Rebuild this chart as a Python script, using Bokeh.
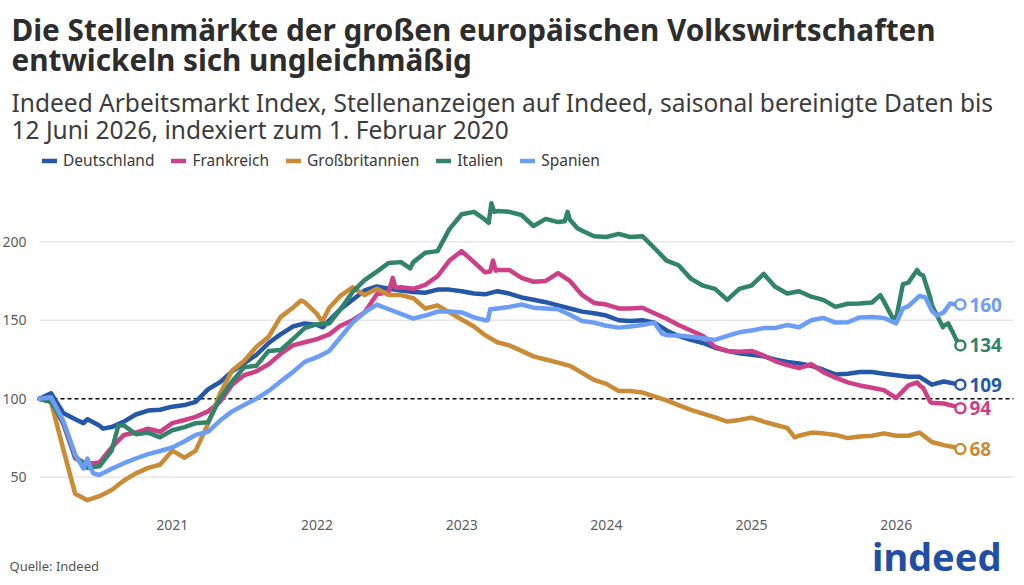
import pandas as pd
from bokeh.plotting import figure
from bokeh.models import (ColumnDataSource, Range1d, FixedTicker, DatetimeTickFormatter,
                          Label, Legend, LegendItem)
from bokeh.core.properties import value
from bokeh.embed import file_html
from bokeh.resources import INLINE

# ---------------- data ----------------
months = pd.date_range("2020-02-01", "2026-06-01", freq="MS").strftime("%Y-%m-%d").tolist() + ["2026-06-12"]

deutschland = [
    100, 103.5, 91, 87, 87, 83, 82, 85.5, 90, 92.5, 93,
    95, 96, 98, 106, 110.5, 117.5, 122.5, 128, 135.5, 141, 146, 148,
    147, 150, 157, 163, 169, 171.5, 170, 169, 168, 167.5, 169.5, 169.5,
    168.5, 167, 166.5, 168.5, 167, 164.5, 163, 161.5, 159.5, 157.5, 155.5, 154.5,
    153, 150, 149.5, 150, 148.5, 143.5, 140, 137.5, 135.5, 132.5, 130.5, 129,
    128, 127, 125, 123.5, 122.5, 121, 118.5, 115.5, 116, 117, 117, 116,
    115, 114, 114, 109, 111, 109.5, 109,
]
frankreich = [
    100, 98, 84, 62, 58.6, 59.4, 69, 77, 78.5, 81, 79,
    84.5, 86.5, 88.5, 92, 98, 109, 115, 117.5, 122, 128.5, 134, 136,
    138, 141, 146.5, 150, 155, 166.5, 168, 171, 170, 172.5, 178, 188,
    194, 187, 180.5, 182, 182, 177, 174.5, 175, 180, 175, 166, 161,
    160, 157.5, 157.5, 158, 154.5, 151, 147, 143.5, 140, 133, 130.5, 130,
    130.5, 127.5, 124, 121.5, 119.5, 122, 117, 113.5, 110.5, 108.5, 107, 105.5,
    100.5, 108.5, 108.5, 97.5, 97, 95, 94,
]
grossbritannien = [
    100, 98, 68, 39.5, 35.5, 38, 42, 48, 52.5, 56, 58,
    67, 62.5, 67, 84, 103, 118, 124, 133, 139.5, 152, 158, 161.5,
    154, 158, 165.5, 171, 166, 170, 166, 166, 164, 157.5, 159.5, 155,
    150.5, 146, 140.5, 136, 134, 130.5, 127, 125, 123, 121, 116.5, 112,
    109.5, 105, 105, 104, 101.5, 99, 96, 93, 90.5, 88.2, 85.5, 86.5,
    88, 85.5, 83.5, 81.5, 76.5, 78.5, 78, 77, 75, 76, 76.5, 78,
    76.5, 76.5, 78.5, 72.5, 70.5, 69, 68,
]
italien = [
    100, 98, 85, 63.5, 56, 57, 67, 83, 77.5, 78.5, 75.5,
    80, 82, 84.5, 85, 100, 111, 120, 121, 130.5, 131, 138, 145,
    147.5, 148, 157, 168, 175.5, 181, 186.5, 187, 187, 193, 194, 208,
    217.5, 219, 214, 219.5, 219, 217, 210, 214.5, 212.5, 214, 207, 203.5,
    203, 205, 203, 203.5, 196, 188, 185, 176.5, 172, 170, 163, 170,
    172, 179.5, 171.5, 167, 168.5, 165, 163, 158.5, 160.5, 160.7, 161.3, 162,
    151, 174, 179.5, 159.5, 146.5, 138, 134,
]
spanien = [
    100, 101, 86, 64.5, 62, 51.5, 55.5, 59, 62, 64.8, 66.8,
    69, 73, 77, 79, 86, 92, 96, 100, 105, 111, 117, 123.5,
    126.5, 130.5, 139, 148.5, 155, 160, 157, 154, 151, 153, 155.5, 155.5,
    155, 151.8, 150, 157.5, 158.5, 160, 158, 157.5, 157, 153.5, 149.5, 148.5,
    146.5, 145.3, 146, 147, 148.5, 140.5, 140.3, 139.5, 138.5, 137.5, 140, 142.3,
    143.5, 145, 145, 147, 145.5, 150, 151.5, 148.5, 148.7, 151.8, 152, 151.5,
    148, 159, 165.5, 156, 155, 160, 160,
]

# extra readings for short spikes between month starts
extra_deutschland = {"2020-05-22": 84.5, "2020-07-10": 81, "2022-01-16": 145.5}
extra_frankreich = {"2022-07-11": 177, "2022-07-18": 170.5, "2023-03-14": 181, "2023-03-21": 188,
                    "2023-03-28": 181.5, "2026-02-23": 110.4, "2026-03-10": 107, "2026-03-28": 98}
extra_grossbritannien = {"2021-11-22": 162.6, "2022-01-14": 149, "2025-04-20": 75.5}
extra_italien = {"2020-08-10": 75.5, "2020-08-18": 83, "2022-08-24": 183, "2023-03-10": 212,
                 "2023-03-17": 224.5, "2023-03-24": 219, "2023-09-18": 213, "2023-09-25": 219,
                 "2023-10-20": 208.5, "2025-11-22": 166, "2025-12-22": 152, "2026-01-18": 173,
                 "2026-02-23": 182, "2026-03-10": 178.5, "2026-03-28": 164.5, "2026-04-14": 153,
                 "2026-04-29": 145.5, "2026-05-12": 148, "2026-05-24": 142.3}
extra_spanien = {"2020-05-22": 55.6, "2020-06-08": 56.2, "2020-06-16": 52.5, "2023-03-08": 150,
                 "2023-03-14": 157, "2024-05-20": 141.5, "2026-01-18": 157.5, "2026-03-16": 164.5,
                 "2026-04-14": 153, "2026-05-17": 160.7}

names = ["Deutschland", "Frankreich", "Großbritannien", "Italien", "Spanien"]
colors = ["#2557A7", "#CD4087", "#C98B36", "#31846A", "#6C9DF5"]
series = [deutschland, frankreich, grossbritannien, italien, spanien]
extras = [extra_deutschland, extra_frankreich, extra_grossbritannien, extra_italien, extra_spanien]

y_ticks = [50, 100, 150, 200]
reference_level = 100
x_tick_years = [2021, 2022, 2023, 2024, 2025, 2026]

FONT = "Noto Sans"
W, H = 1024, 585

# ---------------- pixel geometry: the frame is the whole canvas ----------------
PLOT_L, PLOT_R, PLOT_B = 39, 1013, 508          # plotting area in window pixels
T0 = pd.Timestamp("2020-02-01").value / 1e6       # data start (ms) at PLOT_L
T_END = pd.Timestamp("2026-10-24").value / 1e6    # date at PLOT_R
MS_PX = (T_END - T0) / (PLOT_R - PLOT_L)
Y100_PX, PX_PER_UNIT = 398.3, 1.571


def px_x(px):
    return T0 + (px - PLOT_L) * MS_PX


def px_y(py):
    return 100 + (Y100_PX - py) / PX_PER_UNIT


p = figure(width=W, height=H, x_axis_type="datetime", output_backend="svg",
           toolbar_location=None, min_border=0,
           x_range=Range1d(px_x(0), px_x(W)), y_range=Range1d(px_y(H), px_y(0)))
p.outline_line_color = None
p.background_fill_color = "white"
p.border_fill_color = "white"
p.grid.visible = False

# axes drawn at fixed positions inside the canvas
p.yaxis.fixed_location = T0
p.xaxis.fixed_location = px_y(PLOT_B)
p.yaxis.ticker = FixedTicker(ticks=y_ticks)
p.xaxis.ticker = FixedTicker(ticks=[pd.Timestamp(f"{y}-01-01").value / 1e6 for y in x_tick_years])
p.xaxis.formatter = DatetimeTickFormatter(years="%Y", months="%Y", days="%Y", hours="%Y",
                                          minutes="%Y", seconds="%Y", milliseconds="%Y",
                                          microseconds="%Y", hourmin="%Y", minsec="%Y")
for ax in (p.xaxis, p.yaxis):
    ax.axis_line_color = None
    ax.major_tick_line_color = None
    ax.minor_tick_line_color = None
    ax.major_label_text_font = FONT
    ax.major_label_text_font_size = "14px"
    ax.major_label_text_color = "#5c5c5c"
p.yaxis.major_label_standoff = 7
p.xaxis.major_label_standoff = 5

# horizontal gridlines across the plotting area only, dashed reference line at 100
grid_y = [t for t in y_ticks if t != reference_level]
p.segment(x0=[px_x(PLOT_L)] * len(grid_y), x1=[px_x(PLOT_R)] * len(grid_y), y0=grid_y, y1=grid_y,
          line_color="#e6e6e6", line_width=1.5)
p.segment(x0=[px_x(PLOT_L)], x1=[px_x(PLOT_R)], y0=[reference_level], y1=[reference_level],
          line_color="black", line_width=1.5, line_dash="4 3")

items = []
for name, col, vals, ext in zip(names, colors, series, extras):
    df = pd.DataFrame({"date": months, "v": vals})
    if ext:
        df = pd.concat([df, pd.DataFrame({"date": list(ext.keys()), "v": list(ext.values())})])
    df["date"] = pd.to_datetime(df["date"])
    df = df.sort_values("date").drop_duplicates("date")
    r = p.line("date", "v", source=ColumnDataSource(df), line_color=col, line_width=4.5,
               line_join="round", line_cap="round")
    items.append(LegendItem(label=name, renderers=[r]))
    last = df.iloc[-1]
    end = ColumnDataSource(dict(x=[last["date"]], y=[last["v"]], t=[f"{last['v']:.0f}"]))
    p.scatter("x", "y", source=end, marker="circle", size=10, fill_color="white",
              line_color=col, line_width=2.5)
    p.text("x", "y", text="t", source=end, text_font=value(FONT), text_font_style="bold",
           text_font_size="19px", text_color=col, text_baseline="middle", x_offset=9)

legend = Legend(items=items, orientation="horizontal", location=(42, H - 171),
                border_line_color=None, background_fill_alpha=0, padding=0, margin=0,
                spacing=17, label_standoff=6, glyph_width=15, glyph_height=15,
                label_height=15, label_text_font=FONT, label_text_font_size="15.5px",
                label_text_color="#3a3a3a")
p.add_layout(legend)


def add_text(txt, x, y, size, color, style="normal", align="left"):
    p.add_layout(Label(x=px_x(x), y=px_y(y), text=txt, text_font=FONT, text_font_size=size,
                       text_color=color, text_font_style=style, text_align=align,
                       text_baseline="alphabetic"))


add_text("Die Stellenmärkte der großen europäischen Volkswirtschaften", 11, 28.5, "29.7px", "#2d2d2d", "bold")
add_text("entwickeln sich ungleichmäßig", 11, 59, "29.7px", "#2d2d2d", "bold")
add_text("Indeed Arbeitsmarkt Index, Stellenanzeigen auf Indeed, saisonal bereinigte Daten bis",
         11, 101.5, "24.5px", "#3c3c3c")
add_text("12 Juni 2026, indexiert zum 1. Februar 2020", 11, 128.5, "24.5px", "#3c3c3c")
add_text("Quelle: Indeed", 9, 565, "13px", "#555555")
add_text("indeed", 1001, 555, "38px", "#1F4EA3", "bold", align="right")

open("out.html", "w").write(file_html(p, INLINE))
